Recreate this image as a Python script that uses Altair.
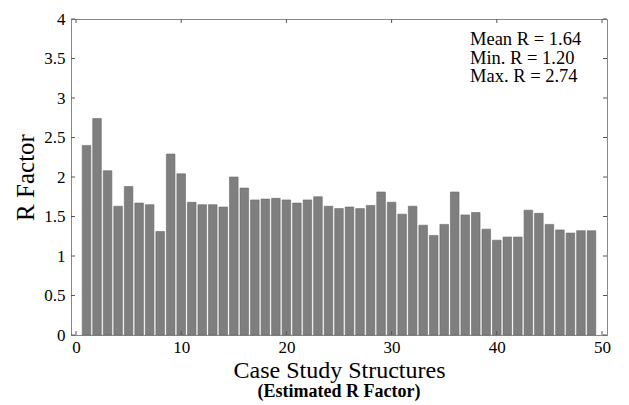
import altair as alt
import pandas as pd

structures = list(range(1, 50))
r_values = [2.40, 2.74, 2.08, 1.63, 1.88, 1.67, 1.65, 1.31, 2.29, 2.04,
            1.68, 1.65, 1.65, 1.62, 2.00, 1.86, 1.71, 1.72, 1.73, 1.71,
            1.67, 1.71, 1.75, 1.63, 1.60, 1.62, 1.60, 1.64, 1.81, 1.68,
            1.53, 1.63, 1.39, 1.26, 1.40, 1.81, 1.52, 1.55, 1.34, 1.20,
            1.24, 1.24, 1.58, 1.54, 1.40, 1.33, 1.29, 1.32, 1.32]
x_ticks = [0, 10, 20, 30, 40, 50]
y_ticks = [0, 0.5, 1, 1.5, 2, 2.5, 3, 3.5, 4]
stats_lines = ["Mean R = 1.64", "Min. R = 1.20", "Max. R = 2.74"]

W, H = 536, 316
FONT = "Liberation Serif"

df = pd.DataFrame({"s": structures, "r": r_values})
xt = pd.DataFrame({"x": x_ticks})
yt = pd.DataFrame({"y": y_ticks})
st = pd.DataFrame({"t": ["\n".join(stats_lines)]})

xscale = alt.Scale(domain=[0, 50], nice=False, zero=False)
yscale = alt.Scale(domain=[0, 4], nice=False)

xaxis = alt.Axis(values=x_ticks, title="Case Study Structures", titleFont=FONT,
                 titleFontSize=24, titleFontWeight="normal", titleColor="black",
                 titlePadding=3, labelFont=FONT, labelFontSize=17, labelColor="black",
                 tickSize=0, labelPadding=4, domainColor="#888888", grid=False,
                 labelOverlap=False)
yaxis = alt.Axis(values=y_ticks, labelExpr="format(datum.value, '~g')",
                 title="R Factor", titleFont=FONT,
                 titleFontSize=25, titleFontWeight="normal", titleColor="black",
                 titlePadding=5, labelFont=FONT, labelFontSize=17, labelColor="black",
                 tickSize=0, labelPadding=6, domainColor="#888888", grid=False,
                 labelFlush=False, labelOverlap=False)

bars = alt.Chart(df).mark_bar(size=8.6, color="#7f7f7f", stroke="#6a6a6a", strokeWidth=0.6).encode(
    x=alt.X("s:Q", scale=xscale, axis=xaxis),
    y=alt.Y("r:Q", scale=yscale, axis=yaxis),
)

tick_col = "#555555"
ytick_l = alt.Chart(yt).mark_rule(color=tick_col, strokeWidth=1).encode(
    y=alt.Y("y:Q", scale=yscale, axis=yaxis), x=alt.value(0), x2=alt.value(4))
ytick_r = alt.Chart(yt).mark_rule(color=tick_col, strokeWidth=1).encode(
    y=alt.Y("y:Q", scale=yscale, axis=yaxis), x=alt.value(W - 4), x2=alt.value(W))
xtick_b = alt.Chart(xt).mark_rule(color=tick_col, strokeWidth=1).encode(
    x=alt.X("x:Q", scale=xscale, axis=xaxis), y=alt.value(H), y2=alt.value(H - 4))
xtick_t = alt.Chart(xt).mark_rule(color=tick_col, strokeWidth=1).encode(
    x=alt.X("x:Q", scale=xscale, axis=xaxis), y=alt.value(0), y2=alt.value(4))

stats = alt.Chart(st).mark_text(align="left", baseline="alphabetic", font=FONT, fontSize=18.5,
                                lineBreak="\n", lineHeight=18.5, color="black").encode(
    x=alt.value(399), y=alt.value(26), text="t:N",
)

subtitle = alt.Chart(pd.DataFrame({"t": ["(Estimated R Factor)"]})).mark_text(
    align="center", baseline="middle", font=FONT, fontSize=18, fontWeight="bold", color="black"
).encode(x=alt.value(W / 2), y=alt.value(H + 57), text="t:N")

chart = alt.layer(bars, ytick_l, ytick_r, xtick_b, xtick_t, stats, subtitle).properties(
    width=W, height=H,
    autosize=alt.AutoSizeParams(type="none"),
    padding={"left": 71, "top": 19, "right": 22, "bottom": 70},
    background="white",
).configure_view(stroke="#888888", strokeWidth=1)

chart.save("out.html", embed_options={"renderer": "svg", "actions": False})
